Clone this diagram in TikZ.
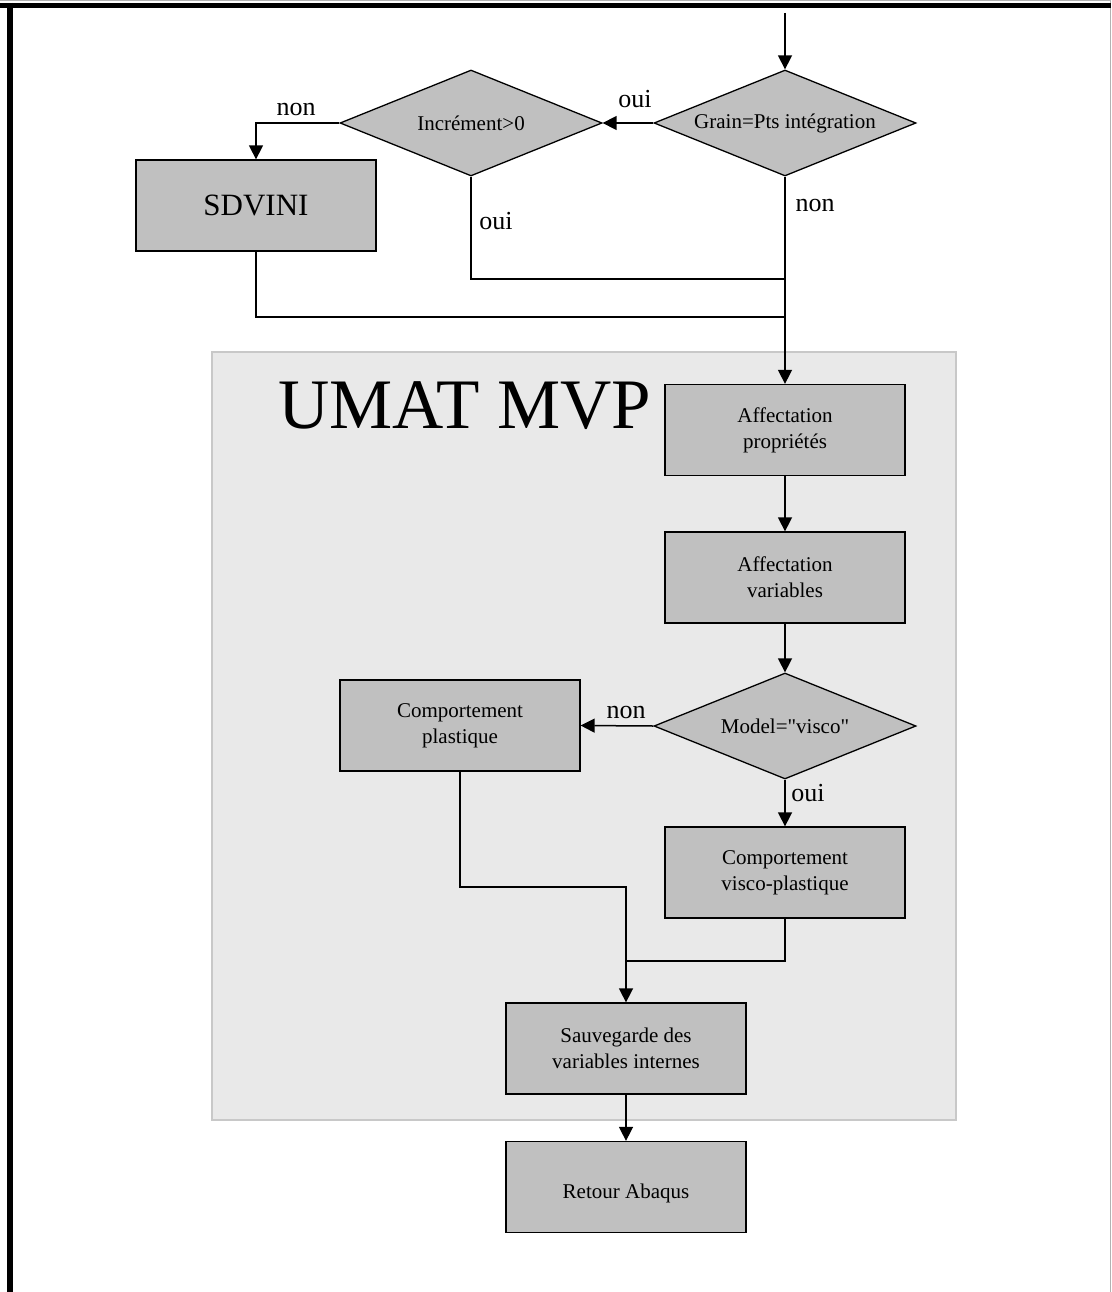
\documentclass[tikz,border=0pt]{standalone}
\usepackage{fontspec}
\setmainfont{Liberation Serif}[Ligatures=TeXOff]
\usetikzlibrary{arrows.meta,shapes.geometric}
\definecolor{boxgray}{HTML}{C0C0C0}
\definecolor{panelgray}{HTML}{E9E9E9}
\definecolor{panelline}{HTML}{C8C8C8}
\tikzset{
  stepbox/.style={draw=black, line width=1.3pt, fill=boxgray, rectangle,
    minimum width=240pt, minimum height=91pt, inner sep=0pt, align=center,
    font=\fontsize{21}{26}\selectfont},
  decision/.style={draw=black, line width=1.3pt, fill=boxgray, diamond, aspect=2.47,
    minimum width=262pt, minimum height=106pt, inner sep=0pt, align=center,
    font=\fontsize{21}{26}\selectfont},
  conn/.style={line width=1.5pt, draw=black},
  arr/.style={conn, -{Triangle[length=14pt,width=14pt]}},
  lbl/.style={font=\fontsize{26}{30}\selectfont, inner sep=0pt}
}
\begin{document}
\begin{tikzpicture}[x=1pt,y=-1pt]
\useasboundingbox (0,0) rectangle (1111,1292);
\fill[white] (0,0) rectangle (1111,1292);
% outer frame
\draw[gray!60, line width=1pt] (0,0.5) -- (1110.5,0.5) -- (1110.5,1292);
\draw[black, line width=5pt] (0,5.5) -- (1111,5.5);
\draw[black, line width=6pt] (10,3) -- (10,1292);
% panel
\draw[panelline, fill=panelgray, line width=2pt] (212,352) rectangle (956,1120);
\node[font=\fontsize{71}{74}\selectfont, anchor=base, inner sep=0pt] (umat) at (465,428) {UMAT MVP};
% nodes
\coordinate (start) at (785,13);
\node[decision] (grain) at (785,123) {Grain=Pts intégration};
\node[decision] (incr) at (471,123) {Incrément>0};
\node[stepbox, font=\fontsize{31}{34}\selectfont] (sdvini) at (256,205.5) {SDVINI};
\coordinate (j1) at (785,279);
\coordinate (j2) at (785,317);
\node[stepbox] (prop) at (785,430) {Affectation\\propriétés};
\node[stepbox] (var) at (785,577.5) {Affectation\\variables};
\node[decision] (model) at (785,726) {Model="visco"};
\node[stepbox] (plast) at (460,725.5) {Comportement\\plastique};
\node[stepbox] (visco) at (785,872.5) {Comportement\\visco-plastique};
\node[stepbox] (sauv) at (626,1048.5) {Sauvegarde des\\variables internes};
\node[stepbox] (retour) at (626,1187) {\raisebox{-6pt}[\height][\depth]{Retour Abaqus}};
\coordinate (j3) at (626,887);
\coordinate (j4) at (626,961);
% connectors
\draw[arr] (start) -- (grain.north);
\draw[arr] (grain.west) -- (incr.east);
\draw[arr] (incr.west) -| (sdvini.north);
\draw[conn] (incr.south) |- (j1);
\draw[conn] (sdvini.south) |- (j2);
\draw[arr] (grain.south) -- (prop.north);
\draw[arr] (prop.south) -- (var.north);
\draw[arr] (var.south) -- (model.north);
\draw[arr] (model.west) -- (plast.east);
\draw[arr] (model.south) -- (visco.north);
\draw[arr] (plast.south) |- (j3) -- (sauv.north);
\draw[conn] (visco.south) |- (j4);
\draw[arr] (sauv.south) -- (retour.north);
% labels
\node[lbl] (l1) at (635,99) {oui};
\node[lbl] (l2) at (296,110) {non};
\node[lbl] (l3) at (496,221) {oui};
\node[lbl] (l4) at (815,206) {non};
\node[lbl] (l5) at (626,712) {non};
\node[lbl] (l6) at (808,793) {oui};
\end{tikzpicture}
\end{document}
